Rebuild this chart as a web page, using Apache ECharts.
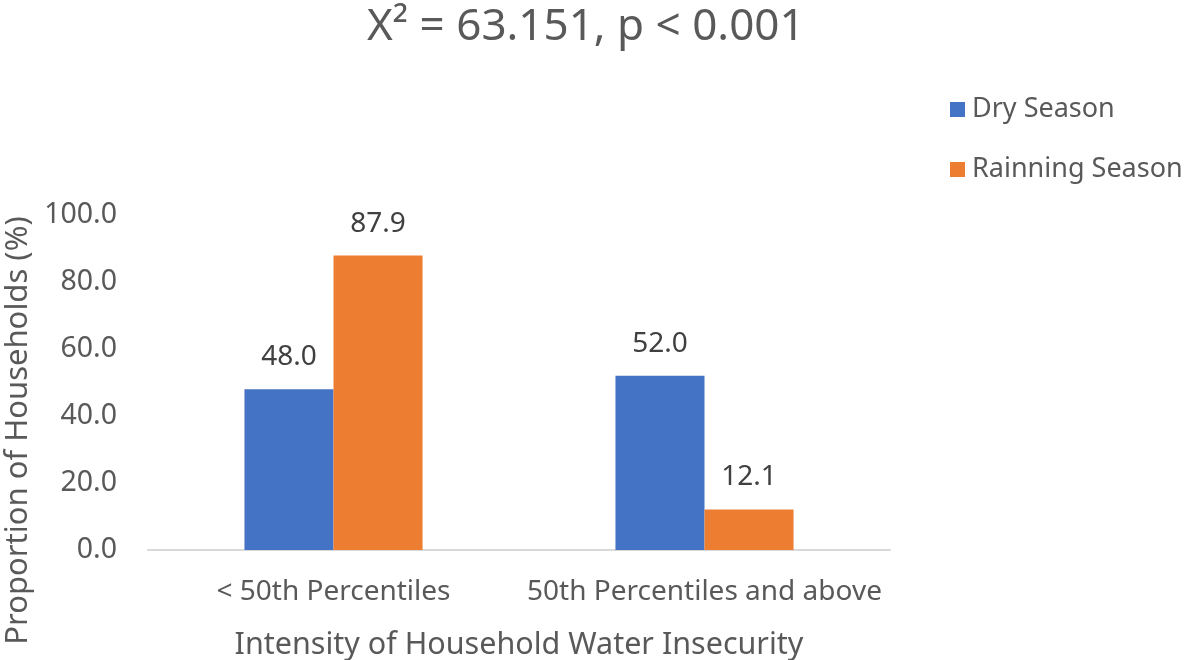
<!DOCTYPE html>
<html><head><meta charset="utf-8">
<script src="https://cdn.jsdelivr.net/npm/echarts@6/dist/echarts.min.js"></script>
<style>html,body{margin:0;padding:0;background:#fff}#c{width:1184px;height:660px}</style>
</head><body><div id="c"></div>
<script>
const categories = ['< 50th Percentiles', '50th Percentiles and above'];
const dryValues = [48.0, 52.0];
const rainValues = [87.9, 12.1];
const seriesNames = ['Dry Season', 'Rainning Season'];
const titleText = 'X\u00B2 = 63.151, p < 0.001';
const FONT = 'Noto Sans';
const TXT = '#595959';
const chart = echarts.init(document.getElementById('c'));
const lbl = {show: true, position: 'top', distance: 18, color: '#404040', fontFamily: FONT, fontSize: 28, formatter: p => p.value.toFixed(1)};
chart.setOption({
  backgroundColor: '#fff',
  animation: false,
  title: {text: titleText, left: 362, top: 0, textStyle: {fontFamily: FONT, fontSize: 44, fontWeight: 'normal', color: TXT}},
  legend: {orient: 'vertical', left: 945, top: 91, itemWidth: 15, itemHeight: 15, itemGap: 33, icon: 'rect',
    textStyle: {fontFamily: FONT, fontSize: 27, color: TXT, padding: [0, 0, 0, 2]}, data: seriesNames},
  grid: {left: 148, right: 294, top: 215, bottom: 110, outerBoundsMode: 'none', containLabel: false},
  xAxis: {type: 'category', data: categories,
    axisLine: {lineStyle: {color: '#d9d9d9', width: 2}}, axisTick: {show: false},
    axisLabel: {color: TXT, fontFamily: FONT, fontSize: 28, margin: 28, interval: 0},
    name: 'Intensity of Household Water Insecurity', nameLocation: 'middle', nameGap: 80,
    nameTextStyle: {color: TXT, fontFamily: FONT, fontSize: 30.5}},
  yAxis: {type: 'value', min: 0, max: 100, interval: 20,
    axisLine: {show: false}, axisTick: {show: false}, splitLine: {show: false},
    axisLabel: {color: TXT, fontFamily: FONT, fontSize: 28.5, margin: 31, formatter: v => v.toFixed(1)},
    name: 'Proportion of Households (%)', nameLocation: 'middle', nameGap: 112,
    nameTextStyle: {color: TXT, fontFamily: FONT, fontSize: 31, padding: [0, 96, 0, 0]}},
  series: [
    {name: seriesNames[0], type: 'bar', data: dryValues, barGap: '0%', barCategoryGap: '52%', itemStyle: {color: '#4472c4'}, label: lbl},
    {name: seriesNames[1], type: 'bar', data: rainValues, itemStyle: {color: '#ed7d31'}, label: lbl}
  ]
});
</script></body></html>
